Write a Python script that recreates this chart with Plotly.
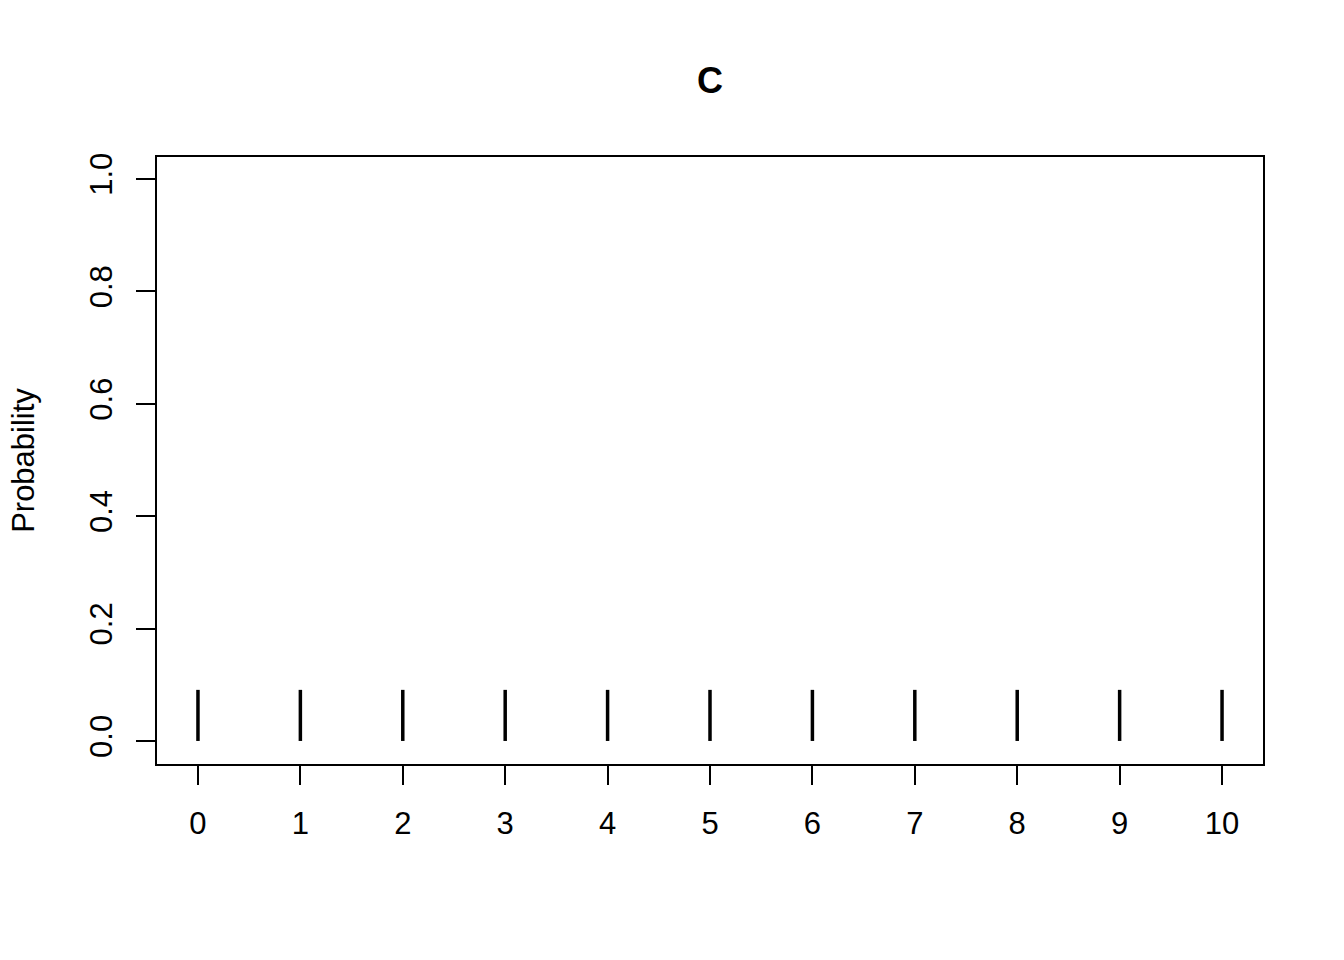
import plotly.graph_objects as go

outcomes = list(range(11))
probs = [1/11] * 11
y_ticks = [0.0, 0.2, 0.4, 0.6, 0.8, 1.0]
y_tick_labels = ["0.0", "0.2", "0.4", "0.6", "0.8", "1.0"]

xs, ys = [], []
for x, p in zip(outcomes, probs):
    xs += [x, x, None]
    ys += [0, p, None]

fig = go.Figure()
fig.add_trace(go.Scatter(x=xs, y=ys, mode="lines",
                         line=dict(color="black", width=3.5),
                         hoverinfo="skip", showlegend=False))

font = dict(family="Liberation Sans, Arial, sans-serif", size=31, color="black")

fig.update_layout(
    width=1344, height=960,
    paper_bgcolor="white", plot_bgcolor="white",
    margin=dict(l=157, r=81, t=157, b=196),
    font=font,
    title=dict(text="<b>C</b>", x=(157 + 1263) / 2 / 1344, xanchor="center",
               y=1 - 80 / 960, yanchor="middle",
               font=dict(family="Liberation Sans, Arial, sans-serif", size=36, color="black")),
    showlegend=False,
)
fig.update_xaxes(range=[-0.4, 10.4], tickvals=outcomes, ticktext=[str(o) for o in outcomes],
                 ticks="outside", ticklen=19, tickwidth=2, tickcolor="black",
                 ticklabelstandoff=12,
                 showgrid=False, zeroline=False, showline=True, linecolor="black",
                 linewidth=2, mirror=True, tickfont=font)
fig.update_yaxes(range=[-0.041, 1.039], tickvals=y_ticks, ticktext=y_tick_labels,
                 ticks="outside", ticklen=19, tickwidth=2, tickcolor="black",
                 tickangle=-90, ticklabelstandoff=12,
                 showgrid=False, zeroline=False, showline=True, linecolor="black",
                 linewidth=2, mirror=True, tickfont=font,
                 title=dict(text="Probability", standoff=40, font=font))

fig.write_html("out.html")
